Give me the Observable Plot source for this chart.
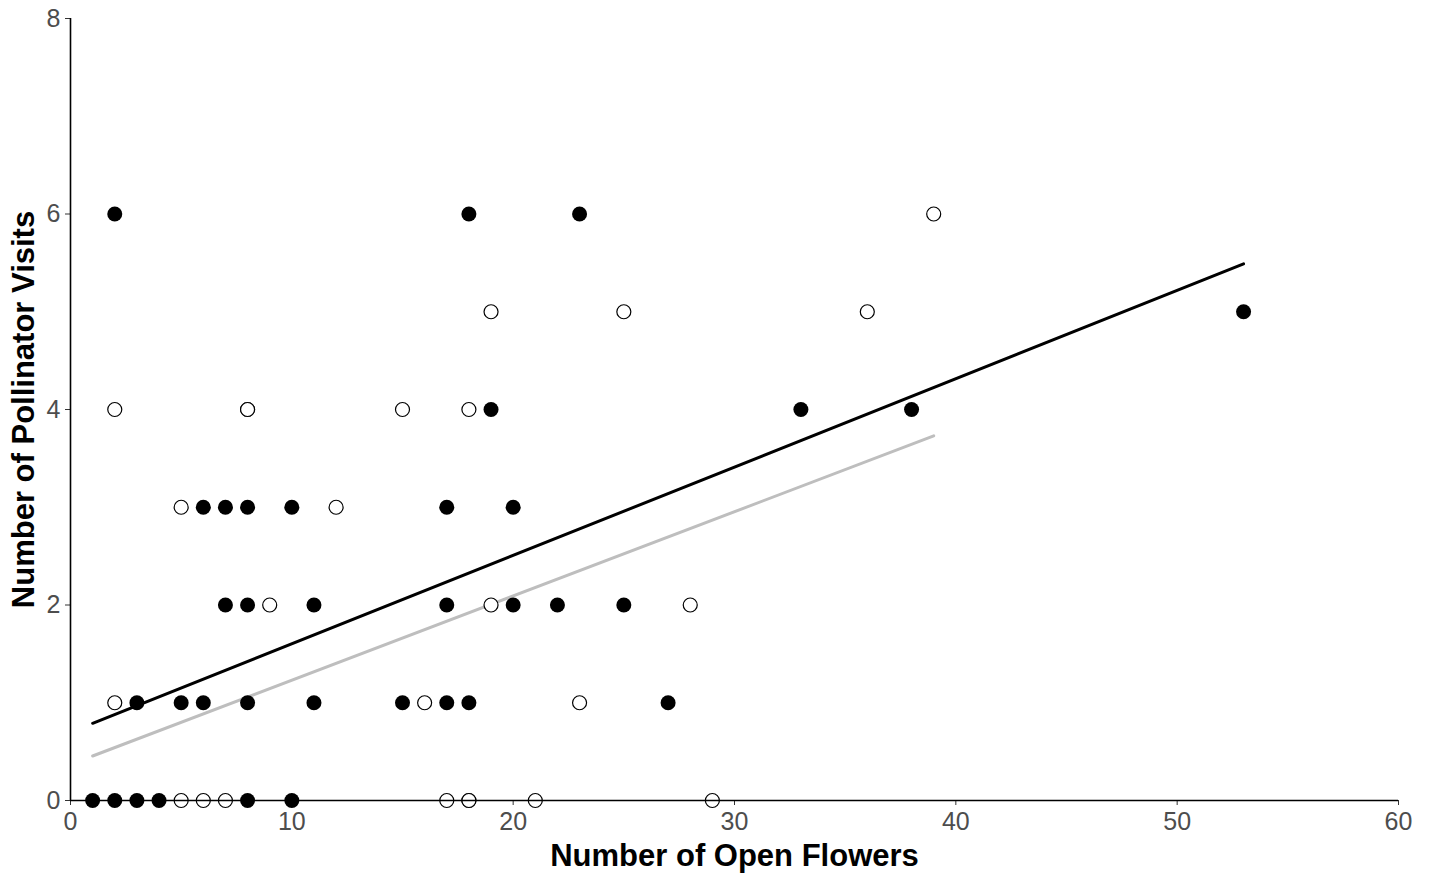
<!DOCTYPE html>
<html>
<head>
<meta charset="utf-8">
<script src="https://cdn.jsdelivr.net/npm/d3@7"></script>
<script src="https://cdn.jsdelivr.net/npm/@observablehq/plot@0.6"></script>
<style>
  html, body { margin: 0; padding: 0; background: #fff; }
  #chart svg { display: block; }
</style>
</head>
<body>
<div id="chart"></div>
<script>
// Filled (black) group
const filledX = [2, 18, 23, 53, 19, 33, 38,
  6, 7, 8, 10, 17, 20,
  7, 8, 11, 17, 20, 22, 25,
  3, 5, 6, 8, 11, 15, 17, 18, 27,
  1, 2, 3, 4, 8, 10];
const filledY = [6, 6, 6, 5, 4, 4, 4,
  3, 3, 3, 3, 3, 3,
  2, 2, 2, 2, 2, 2, 2,
  1, 1, 1, 1, 1, 1, 1, 1, 1,
  0, 0, 0, 0, 0, 0];

// Open (white) group
const openX = [39,
  19, 25, 36,
  2, 8, 8, 15, 18,
  5, 12,
  9, 19, 28,
  2, 16, 23,
  5, 6, 7, 17, 18, 18, 21, 29];
const openY = [6,
  5, 5, 5,
  4, 4, 4, 4, 4,
  3, 3,
  2, 2, 2,
  1, 1, 1,
  0, 0, 0, 0, 0, 0, 0, 0];

// Fitted lines (endpoints)
const filledFitX = [1, 53];
const filledFitY = [0.79, 5.49];
const openFitX = [1, 39];
const openFitY = [0.455, 3.73];

const xTicks = [0, 10, 20, 30, 40, 50, 60];
const yTicks = [0, 2, 4, 6, 8];

const xTitle = "Number of Open Flowers";
const yTitle = "Number of Pollinator Visits";

const filled = filledX.map((x, i) => ({x, y: filledY[i]}));
const open = openX.map((x, i) => ({x, y: openY[i]}));
const filledFit = filledFitX.map((x, i) => ({x, y: filledFitY[i]}));
const openFit = openFitX.map((x, i) => ({x, y: openFitY[i]}));

const font = "'Liberation Sans', Arial, Helvetica, sans-serif";

const chart = Plot.plot({
  width: 1434,
  height: 873,
  marginLeft: 70,
  marginRight: 36,
  marginTop: 18,
  marginBottom: 73,
  style: {fontFamily: font, background: "#fff", overflow: "visible"},
  x: {domain: [0, 60]},
  y: {domain: [0, 8]},
  marks: [
    Plot.axisX(xTicks, {tickSize: 5, tickPadding: 7, fontSize: 25, fill: "#4d4d4d", stroke: "#333", label: null, tickFormat: d3.format("d")}),
    Plot.axisY(yTicks, {tickSize: 5, tickPadding: 5, fontSize: 25, fill: "#4d4d4d", stroke: "#333", label: null, tickFormat: d3.format("d")}),
    Plot.line(openFit, {x: "x", y: "y", stroke: "#bebebe", strokeWidth: 3}),
    Plot.line(filledFit, {x: "x", y: "y", stroke: "#000", strokeWidth: 3}),
    Plot.dot(filled, {x: "x", y: "y", r: 7.5, fill: "#000", stroke: "none"}),
    Plot.dot(open, {x: "x", y: "y", r: 7, fill: "#fff", stroke: "#000", strokeWidth: 1.2}),
    Plot.ruleX([0], {y1: 0, y2: 8, stroke: "#000", strokeWidth: 1.6}),
    Plot.ruleY([0], {x1: 0, x2: 60, stroke: "#000", strokeWidth: 1.6}),
    Plot.text([xTitle], {text: d => d, frameAnchor: "bottom", lineAnchor: "middle", dy: 56, fontSize: 31, fontWeight: "bold", fill: "#000"}),
    Plot.text([yTitle], {text: d => d, frameAnchor: "left", textAnchor: "middle", lineAnchor: "middle", dx: -46, rotate: -90, fontSize: 31, fontWeight: "bold", fill: "#000"})
  ]
});
document.getElementById("chart").appendChild(chart);
</script>
</body>
</html>
